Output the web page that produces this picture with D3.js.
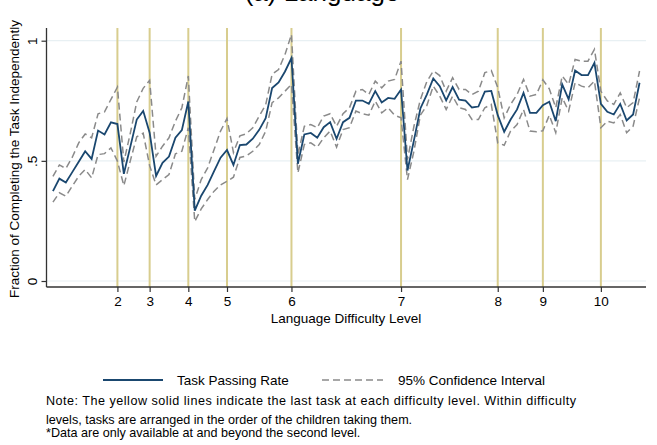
<!DOCTYPE html>
<html>
<head>
<meta charset="utf-8">
<script src="https://cdn.jsdelivr.net/npm/d3@7"></script>
<style>
  html, body { margin: 0; padding: 0; background: #fff; }
  svg { display: block; font-family: "Liberation Sans", Arial, sans-serif; }
</style>
</head>
<body>
<svg id="chart" width="657" height="445"></svg>
<script>
// Task passing rate by task, ordered within language difficulty levels
const passRate = [
  0.374, 0.426, 0.410, 0.453, 0.496, 0.540, 0.508, 0.626, 0.610, 0.660, 0.653,
  0.446, 0.558, 0.672, 0.708, 0.617,
  0.437, 0.492, 0.518, 0.596, 0.628, 0.747,
  0.293, 0.355, 0.400, 0.457, 0.513, 0.545,
  0.483, 0.566, 0.568, 0.592, 0.629, 0.678, 0.803, 0.826, 0.872, 0.928,
  0.488, 0.610, 0.616, 0.596, 0.640, 0.661, 0.592, 0.661, 0.679, 0.751, 0.751, 0.737, 0.790, 0.743, 0.762, 0.758, 0.797,
  0.460, 0.585, 0.718, 0.776, 0.843, 0.811, 0.752, 0.807, 0.755, 0.751, 0.722, 0.726, 0.788, 0.791, 0.690,
  0.621, 0.672, 0.714, 0.783, 0.700, 0.700, 0.732,
  0.746, 0.665, 0.818, 0.756, 0.876, 0.857, 0.857, 0.908, 0.737,
  0.704, 0.693, 0.737, 0.668, 0.693, 0.825
];
const ciUpper = [
  0.435, 0.483, 0.468, 0.515, 0.575, 0.612, 0.596, 0.696, 0.704, 0.756, 0.807,
  0.495, 0.615, 0.745, 0.802, 0.835,
  0.519, 0.561, 0.596, 0.665, 0.721, 0.853,
  0.339, 0.422, 0.471, 0.547, 0.624, 0.676,
  0.535, 0.604, 0.613, 0.638, 0.686, 0.733, 0.860, 0.880, 0.943, 1.026,
  0.525, 0.644, 0.651, 0.638, 0.686, 0.696, 0.644, 0.696, 0.721, 0.790, 0.797, 0.776, 0.832, 0.804, 0.832, 0.839, 0.915,
  0.505, 0.644, 0.755, 0.830, 0.874, 0.855, 0.790, 0.846, 0.797, 0.797, 0.776, 0.790, 0.867, 0.876, 0.805,
  0.679, 0.735, 0.776, 0.839, 0.769, 0.776, 0.837,
  0.800, 0.721, 0.853, 0.818, 0.922, 0.915, 0.915, 0.964, 0.790,
  0.749, 0.735, 0.783, 0.721, 0.742, 0.874
];
const ciLower = [
  0.328, 0.367, 0.353, 0.395, 0.436, 0.464, 0.429, 0.526, 0.530, 0.554, 0.499,
  0.397, 0.500, 0.600, 0.615, 0.480,
  0.400, 0.422, 0.443, 0.529, 0.540, 0.638,
  0.247, 0.300, 0.339, 0.374, 0.400, 0.415,
  0.432, 0.514, 0.520, 0.540, 0.568, 0.623, 0.742, 0.762, 0.790, 0.818,
  0.450, 0.568, 0.575, 0.557, 0.596, 0.624, 0.557, 0.630, 0.638, 0.707, 0.696, 0.690, 0.749, 0.700, 0.721, 0.690, 0.679,
  0.422, 0.540, 0.690, 0.730, 0.811, 0.770, 0.714, 0.769, 0.721, 0.714, 0.672, 0.672, 0.721, 0.735, 0.575,
  0.565, 0.624, 0.651, 0.714, 0.624, 0.621, 0.625,
  0.690, 0.617, 0.763, 0.707, 0.825, 0.811, 0.804, 0.832, 0.638,
  0.665, 0.658, 0.693, 0.617, 0.644, 0.763
];
// Task number (1-based) of the last task at each difficulty level
const lastTaskOfLevel = [11, 16, 22, 28, 38, 55, 70, 77, 86];
const levelLabels = ["2", "3", "4", "5", "6", "7", "8", "9", "10"];
const yTicks = [0, 0.5, 1];
const yTickLabels = ["0", ".5", "1"];

const svg = d3.select("#chart");
const plot = { left: 46.5, right: 646, top: 28, bottom: 287 };

const x = d3.scaleLinear().domain([0, passRate.length + 1]).range([plot.left, plot.right]);
const y = d3.scaleLinear().domain([0, 1]).range([281, 40.7]);

// Title, sitting mostly above the top edge of the canvas
svg.append("text")
  .attr("x", 322).attr("y", 1)
  .attr("text-anchor", "middle")
  .attr("font-size", 26)
  .attr("fill", "#000")
  .text("(a) Language");

// Horizontal grid lines
svg.append("g").selectAll("line").data(yTicks).join("line")
  .attr("x1", plot.left).attr("x2", plot.right)
  .attr("y1", d => y(d)).attr("y2", d => y(d))
  .attr("stroke", "#e8f0f3").attr("stroke-width", 1.2);

// Level boundary lines
svg.append("g").selectAll("line").data(lastTaskOfLevel).join("line")
  .attr("x1", d => x(d)).attr("x2", d => x(d))
  .attr("y1", plot.top).attr("y2", plot.bottom)
  .attr("stroke", "#d8cd8e").attr("stroke-width", 2);

// Axes
const xAxis = d3.axisBottom(x)
  .tickValues(lastTaskOfLevel)
  .tickFormat((d, i) => levelLabels[i])
  .tickSize(5).tickSizeOuter(0);
const gx = svg.append("g").attr("transform", `translate(0,${plot.bottom})`).call(xAxis);
gx.select(".domain").attr("d", `M${plot.left},0H${plot.right}`).attr("stroke", "#333").attr("stroke-width", 1.3);
gx.selectAll(".tick line").attr("stroke", "#333").attr("stroke-width", 1.2);
gx.selectAll(".tick text").attr("font-size", 13.5).attr("fill", "#000")
  .attr("font-family", "Liberation Sans, Arial, sans-serif").attr("y", 9).attr("dy", "0.71em");

const yAxis = d3.axisLeft(y)
  .tickValues(yTicks)
  .tickFormat((d, i) => yTickLabels[i])
  .tickSize(5).tickSizeOuter(0);
const gy = svg.append("g").attr("transform", `translate(${plot.left},0)`).call(yAxis);
gy.select(".domain").attr("d", `M0,${plot.top}V${plot.bottom}`).attr("stroke", "#333").attr("stroke-width", 1.3);
gy.selectAll(".tick line").attr("stroke", "#333").attr("stroke-width", 1.2);
gy.selectAll(".tick text")
  .attr("font-size", 13.5).attr("fill", "#000")
  .attr("font-family", "Liberation Sans, Arial, sans-serif")
  .attr("x", null)
  .attr("text-anchor", "middle")
  .attr("transform", "translate(-14,0) rotate(-90)")
  .attr("y", 0).attr("dy", "0.35em");

// Axis titles
svg.append("text")
  .attr("x", 346).attr("y", 318).attr("dy", "0.35em")
  .attr("text-anchor", "middle").attr("font-size", 13.5)
  .text("Language Difficulty Level");
svg.append("text")
  .attr("transform", "translate(14,159) rotate(-90)")
  .attr("dy", "0.35em")
  .attr("text-anchor", "middle").attr("font-size", 13.5)
  .text("Fraction of Completing the Task Independently");

// Series lines
const line = d3.line().x((d, i) => x(i + 1)).y(d => y(d));
svg.append("path").datum(ciUpper).attr("d", line)
  .attr("fill", "none").attr("stroke", "#8a8a8a").attr("stroke-width", 1.5).attr("stroke-dasharray", "7,4");
svg.append("path").datum(ciLower).attr("d", line)
  .attr("fill", "none").attr("stroke", "#8a8a8a").attr("stroke-width", 1.5).attr("stroke-dasharray", "7,4");
svg.append("path").datum(passRate).attr("d", line)
  .attr("fill", "none").attr("stroke", "#1a476f").attr("stroke-width", 1.8).attr("stroke-linejoin", "miter");

// Legend
const legend = svg.append("g");
legend.append("line").attr("x1", 103).attr("x2", 163).attr("y1", 380).attr("y2", 380)
  .attr("stroke", "#1a476f").attr("stroke-width", 1.8);
legend.append("text").attr("x", 177).attr("y", 380).attr("dy", "0.35em")
  .attr("font-size", 13.5).text("Task Passing Rate");
legend.append("line").attr("x1", 322).attr("x2", 383).attr("y1", 380).attr("y2", 380)
  .attr("stroke", "#8a8a8a").attr("stroke-width", 1.5).attr("stroke-dasharray", "7,4");
legend.append("text").attr("x", 398).attr("y", 380).attr("dy", "0.35em")
  .attr("font-size", 13.5).text("95% Confidence Interval");

// Note below the legend
const noteLines = [
  { text: "Note: The yellow solid lines indicate the last task at each difficulty level. Within difficulty", y: 401, width: 530 },
  { text: "levels, tasks are arranged in the order of the children taking them.", y: 420, width: null },
  { text: "*Data are only available at and beyond the second level.", y: 433, width: null }
];
svg.append("g").selectAll("text").data(noteLines).join("text")
  .attr("x", 46).attr("y", d => d.y).attr("dy", "0.35em")
  .attr("font-size", 12.6).attr("fill", "#000")
  .attr("textLength", d => d.width)
  .attr("lengthAdjust", "spacing")
  .text(d => d.text);
</script>
</body>
</html>
